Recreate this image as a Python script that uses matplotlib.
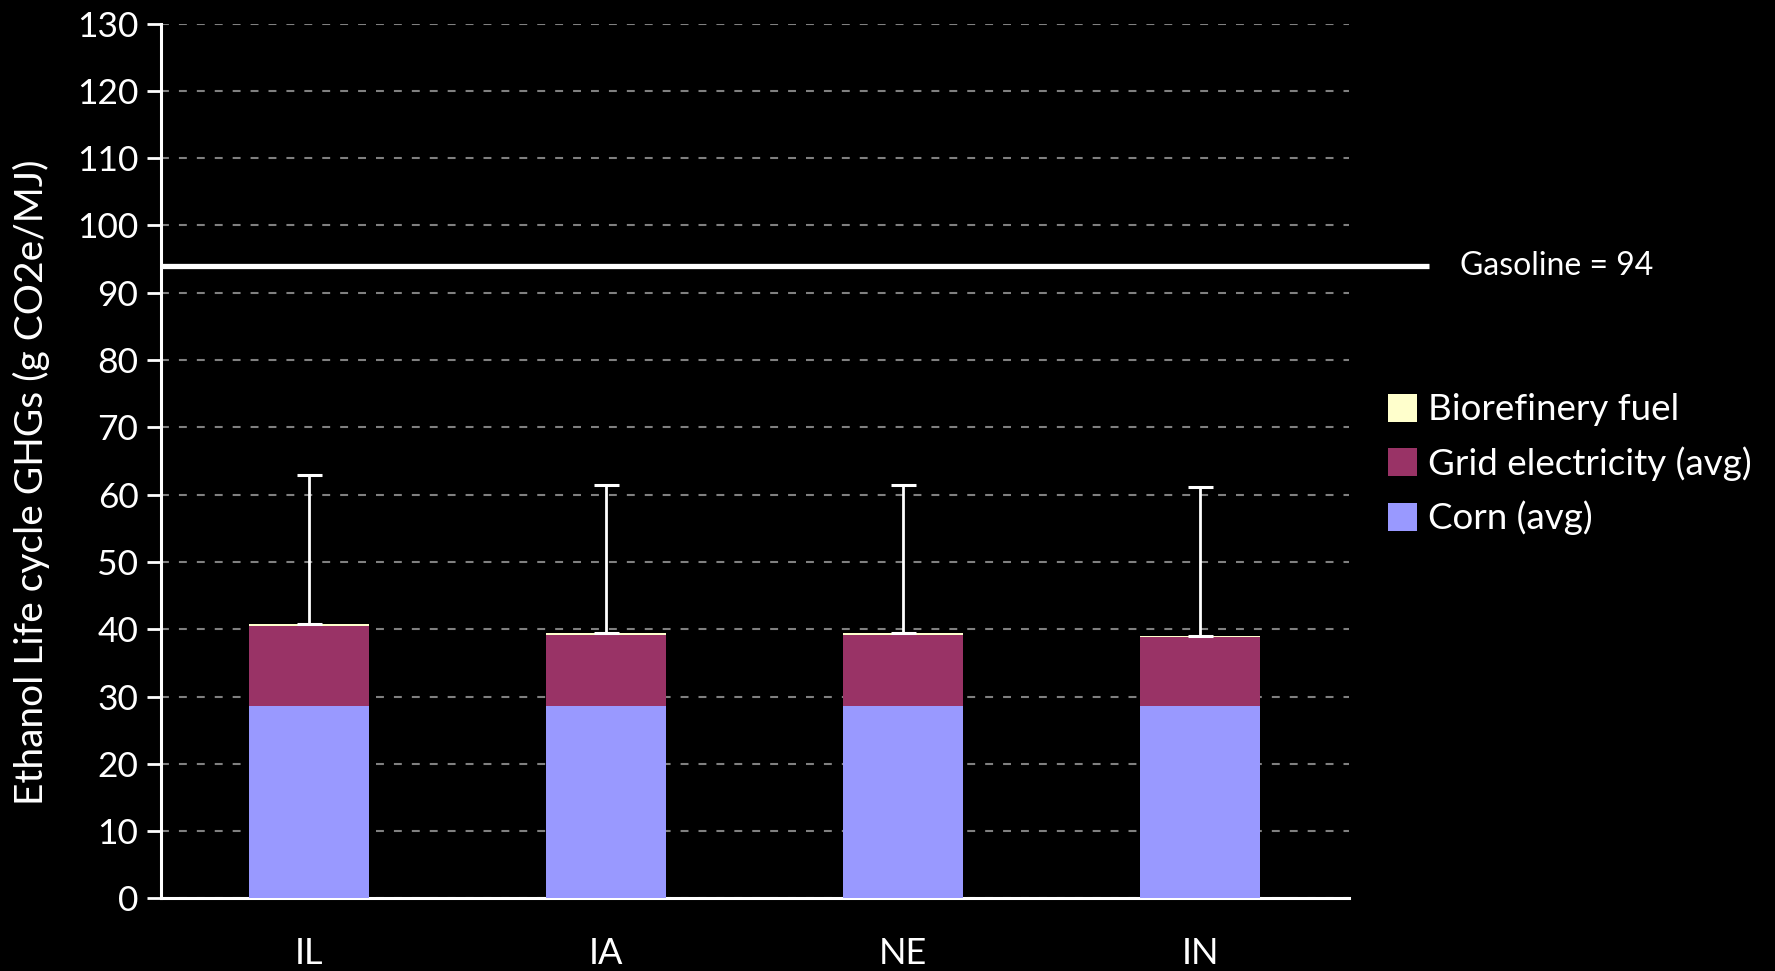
import numpy as np
import matplotlib
import matplotlib.pyplot as plt
from matplotlib.patches import Patch

matplotlib.use('Agg')

states = ['IL', 'IA', 'NE', 'IN']
corn = [28.6, 28.6, 28.6, 28.6]
grid_elec = [11.9, 10.6, 10.55, 10.25]
biorefinery = [0.3, 0.25, 0.25, 0.15]
err_upper = [22.1, 22.0, 22.05, 22.2]
gasoline = 94
y_ticks = list(range(0, 131, 10))

plt.rcParams['font.family'] = ['Lato', 'DejaVu Sans']

fig = plt.figure(figsize=(17.75, 9.71), dpi=100, facecolor='black')
ax = fig.add_axes([0.0905, 0.0747, 0.6695, 0.901])
ax.set_facecolor('black')

x = np.arange(len(states))
w = 0.404
corn_c = '#9999FF'
grid_c = '#993366'
bio_c = '#FFFFCC'

ax.bar(x, corn, w, color=corn_c, zorder=3)
ax.bar(x, grid_elec, w, bottom=corn, color=grid_c, zorder=3)
tops = np.array(corn) + np.array(grid_elec)
ax.bar(x, biorefinery, w, bottom=tops, color=bio_c, zorder=3)
totals = tops + np.array(biorefinery)

ax.errorbar(x, totals, yerr=[np.zeros(len(x)), err_upper], fmt='none',
            ecolor='white', elinewidth=2, capsize=9, capthick=2.2, zorder=4)

# gasoline reference line, runs past the plot area
ax.plot([-0.5, 3.77], [gasoline, gasoline], color='white', lw=3.8,
        clip_on=False, zorder=5, solid_capstyle='butt')
ax.text(3.875, gasoline, f'Gasoline = {gasoline}', color='white', fontsize=23,
        va='center', ha='left', clip_on=False)

ax.set_xlim(-0.5, 3.5)
ax.set_ylim(0, 130)
ax.set_yticks(y_ticks)
ax.set_xticks(x)
ax.set_xticklabels(states)
ax.yaxis.grid(True, color='#808080', linestyle=(0, (3.8, 4.8)), lw=1.5, zorder=1)

for s in ['top', 'right']:
    ax.spines[s].set_visible(False)
for s in ['left', 'bottom']:
    ax.spines[s].set_color('white')
    ax.spines[s].set_linewidth(2.2)

ax.tick_params(axis='y', colors='white', labelsize=25.5, length=10, width=2, direction='out', pad=6)
ax.tick_params(axis='x', colors='white', labelsize=26, length=0, pad=28)

ax.set_ylabel('Ethanol Life cycle GHGs (g CO2e/MJ)', color='white', fontsize=28)
ax.yaxis.set_label_coords(-0.0935, 0.476)

handles = [Patch(facecolor=bio_c, label='Biorefinery fuel'),
           Patch(facecolor=grid_c, label='Grid electricity (avg)'),
           Patch(facecolor=corn_c, label='Corn (avg)')]
leg = fig.legend(handles=handles, loc='upper left', bbox_to_anchor=(0.7735, 0.610),
                 frameon=False, fontsize=26.5, handlelength=0.8, handleheight=0.8,
                 handletextpad=0.3, labelspacing=0.54, borderaxespad=0)
for t in leg.get_texts():
    t.set_color('white')

fig.savefig('out.png', dpi=100, facecolor='black')
